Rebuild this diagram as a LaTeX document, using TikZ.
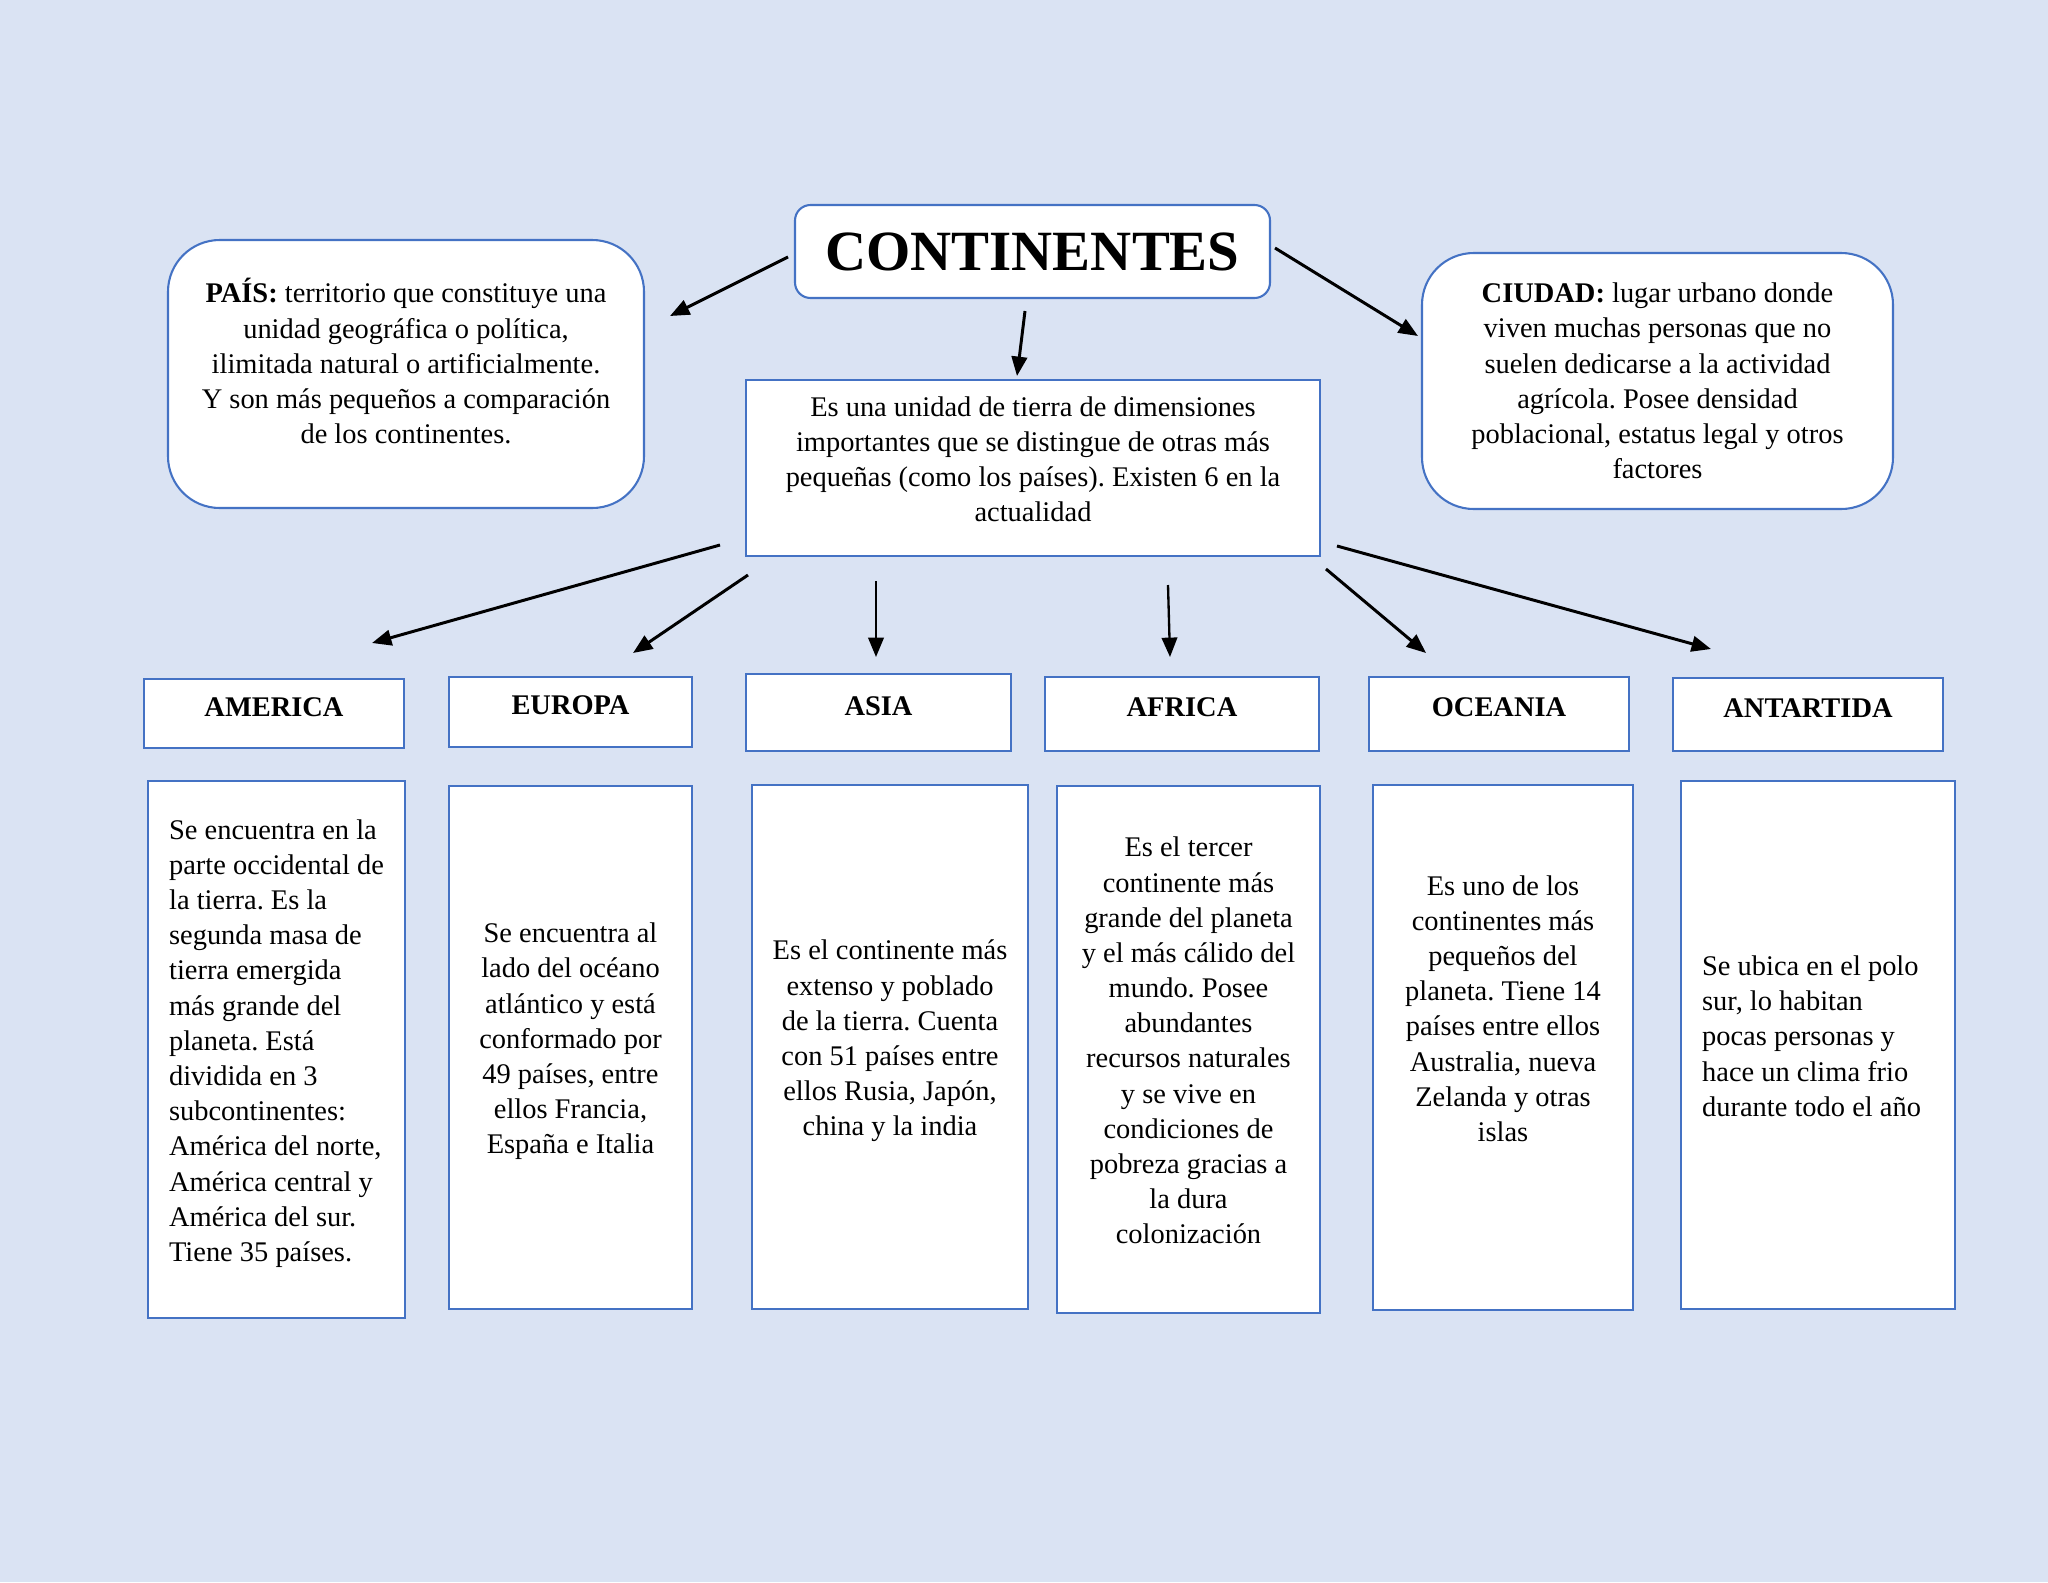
\documentclass[tikz,border=0pt]{standalone}
\usepackage{fontspec}
\setmainfont{Liberation Serif}
\usetikzlibrary{arrows.meta}
\definecolor{bgblue}{HTML}{DAE3F3}
\definecolor{bblue}{HTML}{4472C4}
\newcommand\pxu{0.3867pt}
\frenchspacing
\tikzset{
  sz/.style 2 args={minimum width=#1*\pxu, minimum height=#2*\pxu},
  box/.style={draw=bblue, line width=0.8pt, fill=white, inner sep=0pt, align=center,
    font=\fontsize{11}{13.6}\selectfont\frenchspacing},
  roundbox/.style={box, rounded corners=20pt},
  headbox/.style={box, font=\fontsize{11}{13.6}\selectfont\bfseries, text depth=5pt},
  arr/.style={line width=1.15pt, -{Triangle[length=7.5pt,width=6pt]}},
}
\begin{document}
\begin{tikzpicture}[x=0.3867pt, y=-0.3867pt]
\fill[bgblue] (0,0) rectangle (2048,1582);
\useasboundingbox (0,0) rectangle (2048,1582);

% top row
\node[box, rounded corners=6pt, sz={475}{93}, font=\fontsize{22}{26}\selectfont\bfseries] (cont) at (1032.5,251.5) {CONTINENTES};
\node[roundbox, sz={476}{268}] (pais) at (406,374) {\textbf{PAÍS:} territorio que constituye una\\unidad geográfica o política,\\ilimitada natural o artificialmente.\\Y son más pequeños a comparación\\de los continentes.\\[-3.6pt]\mbox{}};
\node[roundbox, sz={471}{256}] (ciudad) at (1657.5,381) {\textbf{CIUDAD:} lugar urbano donde\\viven muchas personas que no\\suelen dedicarse a la actividad\\agrícola. Posee densidad\\poblacional, estatus legal y otros\\factores};
\node[box, sz={574}{176}] (central) at (1033,468) {Es una unidad de tierra de dimensiones\\importantes que se distingue de otras más\\pequeñas (como los países). Existen 6 en la\\actualidad\\[-6.6pt]\mbox{}};

% headers
\node[headbox, sz={260}{69}] (hAm) at (274,713.5) {AMERICA};
\node[headbox, sz={243}{70}] (hEu) at (570.5,712) {EUROPA};
\node[headbox, sz={265}{77}] (hAs) at (878.5,712.5) {ASIA};
\node[headbox, sz={274}{74}] (hAf) at (1182,714) {AFRICA};
\node[headbox, sz={260}{74}] (hOc) at (1499,714) {OCEANIA};
\node[headbox, sz={270}{73}] (hAn) at (1808,714.5) {ANTARTIDA};

% descriptions
\node[box, sz={257}{537}, align=left] (dAm) at (276.5,1049.5) {Se encuentra en la\\parte occidental de\\la tierra. Es la\\segunda masa de\\tierra emergida\\más grande del\\planeta. Está\\dividida en 3\\subcontinentes:\\América del norte,\\América central y\\América del sur.\\Tiene 35 países.\\[-6.6pt]\mbox{}};
\node[box, sz={243}{523}] (dEu) at (570.5,1047.5) {Se encuentra al\\lado del océano\\atlántico y está\\conformado por\\49 países, entre\\ellos Francia,\\España e Italia\\[-6.6pt]\mbox{}};
\node[box, sz={276}{524}] (dAs) at (890,1047) {Es el continente más\\extenso y poblado\\de la tierra. Cuenta\\con 51 países entre\\ellos Rusia, Japón,\\china y la india\\[-6.6pt]\mbox{}};
\node[box, sz={263}{527}] (dAf) at (1188.5,1049.5) {Es el tercer\\continente más\\grande del planeta\\y el más cálido del\\mundo. Posee\\abundantes\\recursos naturales\\y se vive en\\condiciones de\\pobreza gracias a\\la dura\\colonización\\[-6.6pt]\mbox{}};
\node[box, sz={260}{525}] (dOc) at (1503,1047.5) {Es uno de los\\continentes más\\pequeños del\\planeta. Tiene 14\\países entre ellos\\Australia, nueva\\Zelanda y otras\\islas\\\mbox{}\\[3pt]\mbox{}};
\node[box, sz={274}{528}, align=left] (dAn) at (1818,1045) {Se ubica en el polo\\sur, lo habitan\\pocas personas y\\hace un clima frio\\durante todo el año\mbox{\hspace{5pt}}\\[-6.6pt]\mbox{}};

% arrow end points
\coordinate (p1s) at (788,257);   \coordinate (p1e) at (670,316);
\coordinate (p2s) at (1025,311);  \coordinate (p2e) at (1017,376);
\coordinate (p3s) at (1275,248);  \coordinate (p3e) at (1418,336);
\coordinate (q1s) at (720,545);   \coordinate (q1e) at (372,643);
\coordinate (q2s) at (748,575);   \coordinate (q2e) at (633,653);
\coordinate (q3s) at (876,581);   \coordinate (q3e) at (876,657);
\coordinate (q4s) at (1168,585);  \coordinate (q4e) at (1170,657);
\coordinate (q5s) at (1326,569);  \coordinate (q5e) at (1426,653);
\coordinate (q6s) at (1337,546);  \coordinate (q6e) at (1711,649);

\draw[arr] (p1s) -- (p1e);
\draw[arr] (p2s) -- (p2e);
\draw[arr] (p3s) -- (p3e);
\draw[arr] (q1s) -- (q1e);
\draw[arr] (q2s) -- (q2e);
\draw[arr, line width=0.9pt] (q3s) -- (q3e);
\draw[arr, line width=0.9pt] (q4s) -- (q4e);
\draw[arr] (q5s) -- (q5e);
\draw[arr] (q6s) -- (q6e);
\end{tikzpicture}
\end{document}
